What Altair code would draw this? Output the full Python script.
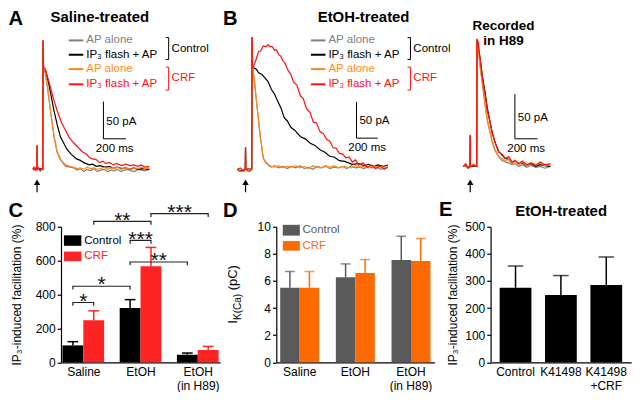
import json
import altair as alt
import pandas as pd

# ---------------- layout helpers (reference pixels -> page pixels) ----------------
SX, SY, FS = 0.97, 0.955, 0.96
FONT = "Liberation Sans"


def X(v):
    return round(v * SX, 2)


def Y(v):
    return round(v * SY, 2)


def F(v):
    return round(v * FS, 2)


T_GREY, T_ORANGE, T_RED = "#808080", "#ff8c1a", "#ff1010"
C_RED = "#ff2424"
D_GREY, D_ORANGE = "#5a5a5a", "#ff6a00"

COLW = [164, 163, 145]
COLSP = 57
TOP_H, BOT_H, ROWSP = 180, 142, 28

# ---------------- data ----------------
conditions = ["Control", "CRF"]
trace_labels = ["AP alone", "IP\u2083 flash + AP", "AP alone", "IP\u2083 flash + AP"]
SB_T, SB_I = 200, 50  # scale bars: ms, pA

# Panel A: saline-treated (time ms, current pA)
a_ap_t = [-90, -80, -70, -62, -55, -53, -51, -40, -25, -12, -3, 0, 4, 16, 39, 67, 96, 124, 150, 167, 200, 239,
          270, 300, 330, 360, 390, 420, 450, 480, 510, 540, 570, 600, 630, 660, 690, 720, 750, 780, 810, 840, 870,
          900, 940]
a_grey_i = [0, 2, -1, 1, 0, 32, 0, 2, -1, 1, 0, 173, 136, 132, 110, 77, 45, 23, 14, 10, 4, 3, 2, -1, 1, -3, 0, -2,
            1, -3, -1, 0, -3, -1, -2, 0, -3, -1, 0, -2, -3, 0, -1, -2, 0]
a_orange_i = [0, 1, -1, 2, 0, 32, 0, 1, -2, 1, 0, 173, 136, 133, 112, 78, 46, 24, 16, 11, 6, 4, 3, 1, 2, 0, 3, 1,
              2, 0, 1, 3, 0, 2, 1, 3, 0, 2, 1, 0, 2, 1, 3, 1, 2]
a_black_t = [-90, -70, -55, -53, -51, -30, -3, 0, 4, 24, 53, 96, 125, 153, 180, 210, 250, 296, 330, 360, 410, 440,
             470, 500, 553, 590, 620, 660, 696, 730, 770, 800, 840, 880, 940]
a_black_i = [0, 1, 0, 32, 0, 1, 0, 173, 134, 132, 113, 79, 60, 44, 36, 27, 20, 14, 12, 9, 6, 7, 4, 5, 3, 4, 1, 3,
             1, 2, 0, 2, 0, 1, 0]
a_red_t = [-90, -80, -70, -62, -55, -53, -51, -40, -25, -12, -3, 0, 4, 16, 53, 90, 124, 160, 196, 230, 268, 300,
           353, 380, 410, 439, 470, 500, 530, 553, 590, 620, 650, 696, 730, 770, 800, 839, 870, 900, 940]
a_red_i = [0, 3, -1, 2, 0, 32, 0, 2, -2, 1, 0, 173, 136, 136, 117, 96, 79, 64, 53, 43, 36, 31, 23, 21, 16, 14, 13,
           9, 11, 8, 9, 6, 8, 5, 7, 5, 6, 4, 6, 3, 4]

# Panel B: EtOH-treated
b_ap_t = [-137, -120, -100, -80, -63, -61, -59, -40, -20, -3, 0, 4, 9, 45, 76, 106, 130, 152, 180, 210, 250, 290,
          330, 370, 410, 450, 490, 530, 570, 610, 650, 690, 730, 770, 810, 850, 890, 930, 970, 1010, 1050, 1090,
          1130, 1170, 1210, 1250, 1274]
b_grey_i = [0, -3, -1, -3, 0, 30, 0, -2, -3, 0, 182, 140, 140, 89, 46, 15, 9, 6, 3, 5, 2, 4, 1, 4, 2, 5, 1, 3, 0,
            4, 2, 5, 1, 3, 2, 4, 1, 5, 2, 3, 1, 4, 2, 3, 0, 2, 3]
b_orange_i = [0, -2, -3, -1, 0, 30, 0, -3, -1, 0, 182, 140, 140, 90, 47, 16, 10, 7, 4, 3, 5, 2, 4, 3, 5, 2, 4, 1,
              5, 3, 2, 4, 3, 5, 2, 4, 3, 2, 5, 3, 4, 2, 5, 3, 4, 2, 3]
b_black_t = [-137, -110, -85, -63, -61, -59, -30, -3, 0, 4, 15, 40, 61, 90, 121, 150, 182, 210, 243, 270, 303, 330,
             364, 400, 455, 500, 546, 590, 637, 680, 728, 770, 819, 870, 940, 1000, 1050, 1092, 1140, 1180, 1230,
             1274]
b_black_i = [0, -2, -1, 0, 30, 0, -2, 0, 182, 140, 140, 138, 133, 131, 126, 121, 110, 104, 93, 85, 71, 67, 58, 54,
             45, 42, 36, 33, 27, 24, 18, 17, 12, 11, 7, 8, 5, 7, 4, 6, 4, 6]
b_red_t = [-137, -110, -85, -63, -61, -59, -30, -3, 0, 4, 15, 35, 61, 80, 106, 130, 150, 167, 190, 210, 228, 250,
           270, 288, 310, 335, 364, 390, 420, 455, 480, 510, 546, 575, 605, 637, 670, 700, 728, 760, 790, 819, 850,
           880, 910, 940, 970, 1001, 1040, 1080, 1122, 1160, 1200, 1240, 1274]
b_red_i = [0, 2, -2, 0, 30, 0, 1, 0, 182, 140, 142, 150, 162, 163, 170, 169, 172, 169, 169, 164, 165, 158, 156, 150,
           146, 137, 131, 120, 116, 101, 98, 84, 78, 65, 64, 52, 49, 41, 39, 30, 29, 22, 21, 16, 17, 10, 13, 6, 9, 3,
           6, 1, 5, 0, 3]

# Panel "Recorded in H89"
h_t = [-123, -100, -80, -62, -60, -58, -30, -3, 0, 6, 14, 30, 49, 70, 92, 115, 135, 160, 191, 220, 249, 280, 310,
       335, 370, 400, 440, 478, 520, 560, 600, 650]
h_grey_i = [0, 1, -2, 0, 35, 0, 0, 0, 142, 140, 130, 110, 91, 70, 51, 38, 27, 18, 11, 7, 5, 4, 2, 3, 0, 2, -1, 1,
            -1, 0, -2, 0]
h_black_i = [0, 1, -1, 0, 35, 0, 1, 0, 142, 140, 133, 118, 100, 84, 65, 50, 38, 27, 17, 13, 9, 8, 4, 6, 3, 4, 1, 3,
             0, 2, 1, 0]
h_orange_i = [0, 2, -1, 0, 35, 0, 2, 0, 142, 140, 129, 110, 92, 71, 52, 40, 28, 19, 11, 9, 6, 8, 3, 6, 2, 5, 1, 4,
              2, 4, 1, 3]
h_red_i = [0, 3, -2, 0, 35, 0, 2, 0, 142, 141, 134, 118, 98, 82, 62, 50, 37, 27, 16, 14, 9, 11, 5, 7, 3, 6, 2, 4, 1,
           5, 2, 3]

# Panel C
c_groups = ["Saline", "EtOH", "EtOH (in H89)"]
c_ctrl_mean = [100, 320, 45]
c_ctrl_sem = [22, 50, 10]
c_crf_mean = [248, 567, 73]
c_crf_sem = [56, 111, 21]
br_from = [("Saline", "Control"), ("Saline", "Control"), ("EtOH", "Control"),
           ("EtOH", "Control"), ("Saline", "CRF"), ("EtOH", "CRF")]
br_to = [("Saline", "CRF"), ("EtOH", "Control"), ("EtOH (in H89)", "Control"),
         ("EtOH", "CRF"), ("EtOH", "CRF"), ("EtOH (in H89)", "CRF")]
br_level = [353, 449, 592, 719, 832, 877]
br_stars = ["*", "*", "**", "***", "**", "***"]

# Panel D
d_groups = ["Saline", "EtOH", "EtOH (in H89)"]
d_ctrl_mean = [5.5, 6.28, 7.54]
d_ctrl_sem = [1.2, 0.98, 1.76]
d_crf_mean = [5.5, 6.58, 7.47]
d_crf_sem = [1.2, 1.0, 1.66]

# Panel E
e_groups = ["Control", "K41498", "K41498 +CRF"]
e_mean = [275, 248, 285]
e_sem = [80, 72, 103]

ONE = pd.DataFrame({"k": [0]})
SPLIT = "split(replace(replace(datum.label, ' (', '|('), ' +', '|+'), '|')"


def txt(x, y, s, size=12, color="black", weight="normal", align="left", baseline="middle", angle=0):
    return alt.Chart(ONE).mark_text(text=s, fontSize=F(size), color=color, fontWeight=weight,
                                    align=align, baseline=baseline, angle=angle).encode(
        x=alt.value(X(x)), y=alt.value(Y(y)))


def seg(x1, y1, x2, y2, color="black", w=1.0):
    return alt.Chart(ONE).mark_rule(color=color, strokeWidth=w).encode(
        x=alt.value(X(x1)), x2=alt.value(X(x2)), y=alt.value(Y(y1)), y2=alt.value(Y(y2)))


def box(x1, y1, x2, y2, color):
    return alt.Chart(ONE).mark_rect(color=color).encode(
        x=alt.value(X(x1)), x2=alt.value(X(x2)), y=alt.value(Y(y1)), y2=alt.value(Y(y2)))


def trace_legend(x0, bx):
    cols = [T_GREY, "black", T_ORANGE, T_RED]
    rows = [13, 28, 43, 59]
    L = []
    for lab, col, yy in zip(trace_labels, cols, rows):
        L.append(seg(x0, yy, x0 + 15, yy, col, 2))
        L.append(txt(x0 + 18, yy, lab, 12, col))
    L += [seg(bx - 3, 10, bx, 10), seg(bx, 10, bx, 33), seg(bx - 3, 33, bx, 33)]
    L.append(txt(bx + 3, 22, conditions[0], 12))
    L += [seg(bx - 3, 41, bx, 41, T_RED), seg(bx, 41, bx, 65, T_RED), seg(bx - 3, 65, bx, 65, T_RED)]
    L.append(txt(bx + 3, 52, conditions[1], 12, T_RED))
    return L


def trace_panel(traces, xdom, ydom, width, sb, arrow, deco):
    xs = alt.Scale(domain=xdom, nice=False, zero=False)
    ys = alt.Scale(domain=ydom, nice=False, zero=False)

    def enc(ch, **kw):
        return ch.encode(x=alt.X("t:Q", scale=xs, axis=None), y=alt.Y("I:Q", scale=ys, axis=None), **kw)

    layers = []
    for (t, I), col in zip(traces, [T_GREY, "black", T_ORANGE, T_RED]):
        df = pd.DataFrame({"t": t, "I": I, "o": list(range(len(t)))})
        layers.append(enc(alt.Chart(df).mark_line(color=col, strokeWidth=1.2), order="o:Q"))
    t0, i0 = sb
    bars = pd.DataFrame({"t": [t0, t0], "t2": [t0, t0 + SB_T], "I": [i0, i0], "I2": [i0 + SB_I, i0]})
    layers.append(enc(alt.Chart(bars).mark_rule(color="black", strokeWidth=1), x2="t2:Q", y2="I2:Q"))
    lv = pd.DataFrame({"t": [t0], "I": [i0 + SB_I / 2], "s": [f"{SB_I} pA"]})
    layers.append(enc(alt.Chart(lv).mark_text(align="left", baseline="middle", dx=X(3), dy=Y(1.5),
                                              fontSize=F(12)), text="s:N"))
    lh = pd.DataFrame({"t": [t0 + SB_T / 2], "I": [i0], "s": [f"{SB_T} ms"]})
    layers.append(enc(alt.Chart(lh).mark_text(align="center", baseline="middle", dy=Y(10.5),
                                              fontSize=F(12)), text="s:N"))
    at, ahead, abot = arrow
    ar = pd.DataFrame({"t": [at], "I": [ahead], "I2": [abot]})
    layers.append(enc(alt.Chart(ar).mark_rule(color="black", strokeWidth=1.2), y2="I2:Q"))
    layers.append(enc(alt.Chart(ar).mark_point(shape="triangle-up", filled=True, size=40,
                                               color="black", opacity=1)))
    return alt.layer(*layers, *deco).properties(width=X(width), height=Y(TOP_H))


pA = trace_panel(
    [(a_ap_t, a_grey_i), (a_black_t, a_black_i), (a_ap_t, a_orange_i), (a_red_t, a_red_i)],
    [158.7, 1565.9], [-41.0, 189.7], COLW[0], (534, 41), (-53, -17.3, -30.8),
    [txt(-54, -3.3, "A", 21, weight="bold", baseline="alphabetic"),
     txt(40, -6.5, "Saline-treated", 15.5, weight="bold", align="center", baseline="alphabetic")]
    + trace_legend(8, 111))

pB = trace_panel(
    [(b_ap_t, b_grey_i), (b_black_t, b_black_i), (b_ap_t, b_orange_i), (b_red_t, b_red_i)],
    [227.5, 1710.8], [-42.1, 194.8], COLW[1], (980, 43), (-61, -17.8, -31.6),
    [txt(-55, -3.3, "B", 21, weight="bold", baseline="alphabetic"),
     txt(90, -6, "EtOH-treated", 15.5, weight="bold", align="center", baseline="alphabetic")]
    + trace_legend(35.7, 138.3))

pH = trace_panel(
    [(h_t, h_grey_i), (h_t, h_black_i), (h_t, h_orange_i), (h_t, h_red_i)],
    [120.1, 1364.2], [-37.5, 155.2], COLW[2], (335, 31), (-60, -17.7, -28.9),
    [txt(13.3, 1.7, "Recorded", 14, weight="bold", align="center", baseline="alphabetic"),
     txt(13.3, 17.3, "in H89", 14, weight="bold", align="center", baseline="alphabetic")])


# ---------------- panel C ----------------
def c_panel():
    step, first = 59.0, 23.0
    half = 21.5 / step
    cap = 5.5 / step
    xs = alt.Scale(domain=[-first / step, (COLW[0] - first) / step], nice=False, zero=False)
    ys = alt.Scale(domain=[0, 800], nice=False)
    rows = []
    for i, g in enumerate(c_groups):
        for k, cond in enumerate(conditions):
            m = [c_ctrl_mean, c_crf_mean][k][i]
            s = [c_ctrl_sem, c_crf_sem][k][i]
            left = i - half + k * half
            ctr = left + half / 2
            rows.append(dict(group=g, cond=cond, mean=m, top=m + s, left=left, right=left + half,
                             ctr=ctr, capl=ctr - cap, capr=ctr + cap))
    df = pd.DataFrame(rows)
    pos = {(r["group"], r["cond"]): r["ctr"] for r in rows}
    drop = 3.5 * 800 / BOT_H
    lines, stars = [], []
    for j, (a, b, lev, st) in enumerate(zip(br_from, br_to, br_level, br_stars)):
        xa, xb = pos[a], pos[b]
        for o, (bx, by) in enumerate([(xa, lev - drop), (xa, lev), (xb, lev), (xb, lev - drop)]):
            lines.append(dict(id=j, o=o, bx=bx, by=by))
        stars.append(dict(mid=(xa + xb) / 2, y=lev, s=st))
    ldf, sdf = pd.DataFrame(lines), pd.DataFrame(stars)
    labexpr = f"split(replace({json.dumps(c_groups)}[datum.value], ' (', '|('), '|')"
    color = alt.Color("cond:N", scale=alt.Scale(domain=conditions, range=["black", C_RED]), legend=None)
    xaxis = alt.Axis(values=[0, 1, 2], labelExpr=labexpr, ticks=False, title=None, labelPadding=Y(4),
                     labelLineHeight=Y(15), grid=False)
    yaxis = alt.Axis(values=[0, 200, 400, 600, 800], title="IP\u2083-induced facilitation (%)",
                     titleX=X(-39), titleY=Y(71))

    def ex(f):
        return alt.X(f, type="quantitative", scale=xs, axis=xaxis)

    def ey(f):
        return alt.Y(f, type="quantitative", scale=ys, axis=yaxis)

    bars = alt.Chart(df).mark_bar().encode(x=ex("left"), x2="right:Q", y=ey("mean"), y2=alt.datum(0), color=color)
    whisk = alt.Chart(df).mark_rule(strokeWidth=1.5).encode(x=ex("ctr"), y=ey("mean"), y2="top:Q", color=color)
    caps = alt.Chart(df).mark_rule(strokeWidth=1.5).encode(x=ex("capl"), x2="capr:Q", y=ey("top"), color=color)
    brk = alt.Chart(ldf).mark_line(color="#222222", strokeWidth=1.2).encode(
        x=ex("bx"), y=ey("by"), detail="id:N", order="o:Q")
    st = alt.Chart(sdf).mark_text(fontSize=F(22), align="center", baseline="alphabetic", dy=Y(5.5),
                                  color="#111111").encode(x=ex("mid"), y=ey("y"), text="s:N")
    deco = [box(3, 9, 21, 20, "black"), txt(24, 15, conditions[0], 12),
            box(3, 26, 21, 36, C_RED), txt(24, 31, conditions[1], 12, C_RED),
            txt(-54, -9.7, "C", 21, weight="bold", baseline="alphabetic")]
    return alt.layer(bars, whisk, caps, brk, st, *deco).properties(width=X(COLW[0]), height=Y(BOT_H))


# ---------------- panel D ----------------
def d_panel():
    rows = []
    for i, g in enumerate(d_groups):
        for k, cond in enumerate(conditions):
            m = [d_ctrl_mean, d_crf_mean][k][i]
            s = [d_ctrl_sem, d_crf_sem][k][i]
            rows.append(dict(group=g, cond=cond, mean=m, top=m + s))
    df = pd.DataFrame(rows)
    xsc = alt.Scale(paddingInner=0.3, paddingOuter=0.07)
    xaxis = alt.Axis(labelExpr=SPLIT, labelAngle=0, ticks=False, title=None, labelPadding=Y(4),
                     labelLineHeight=Y(15))
    ys = alt.Scale(domain=[0, 10], nice=False)
    yaxis = alt.Axis(values=[0, 2, 4, 6, 8, 10], title=None)
    xe = alt.X("group:N", sort=d_groups, scale=xsc, axis=xaxis)
    xo = alt.XOffset("cond:N", sort=conditions, scale=alt.Scale(paddingInner=0, paddingOuter=0))
    color = alt.Color("cond:N", scale=alt.Scale(domain=conditions, range=[D_GREY, D_ORANGE]), legend=None)
    bars = alt.Chart(df).mark_bar().encode(x=xe, xOffset=xo, y=alt.Y("mean:Q", scale=ys, axis=yaxis), color=color)
    whisk = alt.Chart(df).mark_rule(strokeWidth=1.5).encode(
        x=xe, xOffset=xo, y=alt.Y("mean:Q", scale=ys, axis=yaxis), y2="top:Q", color=color)
    caps = alt.Chart(df).mark_tick(orient="horizontal", size=X(10), thickness=1.5).encode(
        x=xe, xOffset=xo, y=alt.Y("top:Q", scale=ys, axis=yaxis), color=color)
    yb = 101.5
    deco = [box(6.7, -2, 24.3, 9.3, D_GREY), txt(27, 3.7, conditions[0], 12, D_GREY),
            box(6.7, 15, 24.3, 25, D_ORANGE), txt(27, 20, conditions[1], 12, D_ORANGE),
            txt(-55, -9.7, "D", 21, weight="bold", baseline="alphabetic"),
            txt(-40, yb, "I", 13.5, align="left", baseline="alphabetic", angle=270),
            txt(-36.5, yb - 3.75, "K(Ca)", 10.5, align="left", baseline="alphabetic", angle=270),
            txt(-40, yb - 3.75 - 27.4 - 3.75, "(pC)", 13.5, align="left", baseline="alphabetic", angle=270)]
    return alt.layer(bars, whisk, caps, *deco).properties(width=X(COLW[1]), height=Y(BOT_H))


# ---------------- panel E ----------------
def e_panel():
    df = pd.DataFrame({"group": e_groups, "mean": e_mean, "top": [m + s for m, s in zip(e_mean, e_sem)]})
    xsc = alt.Scale(paddingInner=0.3, paddingOuter=0.2)
    xaxis = alt.Axis(labelExpr=SPLIT, labelAngle=0, ticks=False, title=None, labelPadding=Y(4),
                     labelLineHeight=Y(15))
    ys = alt.Scale(domain=[0, 500], nice=False)
    yaxis = alt.Axis(values=[0, 100, 200, 300, 400, 500], title="IP\u2083-induced facilitation (%)",
                     titleX=X(-32), titleY=Y(71))
    xe = alt.X("group:N", sort=e_groups, scale=xsc, axis=xaxis)
    bars = alt.Chart(df).mark_bar(color="black").encode(x=xe, y=alt.Y("mean:Q", scale=ys, axis=yaxis))
    whisk = alt.Chart(df).mark_rule(strokeWidth=1.5, color="black").encode(
        x=xe, y=alt.Y("mean:Q", scale=ys, axis=yaxis), y2="top:Q")
    caps = alt.Chart(df).mark_tick(orient="horizontal", size=X(16), thickness=1.5, color="black").encode(
        x=xe, y=alt.Y("top:Q", scale=ys, axis=yaxis))
    deco = [txt(-53.3, -11.3, "E", 21, weight="bold", baseline="alphabetic"),
            txt(72.7, -11.3, "EtOH-treated", 15.5, weight="bold", align="center", baseline="alphabetic")]
    return alt.layer(bars, whisk, caps, *deco).properties(width=X(COLW[2]), height=Y(BOT_H))


chart = alt.concat(pA, pB, pH, c_panel(), d_panel(), e_panel(), columns=3,
                   spacing={"row": Y(ROWSP), "column": X(COLSP)}, bounds="flush", padding=0)
chart = chart.resolve_scale(color="independent")
chart = chart.configure(font=FONT).configure_view(strokeWidth=0).configure_axis(
    domainColor="black", domainWidth=1.2, tickColor="black", tickWidth=1.2, tickSize=Y(4),
    labelColor="black", labelFontSize=F(12.5), titleFontSize=F(12.5), titleFontWeight="normal",
    titleColor="black", labelPadding=2, grid=False)

chart.save("out.html", embed_options={"renderer": "svg", "actions": False})
